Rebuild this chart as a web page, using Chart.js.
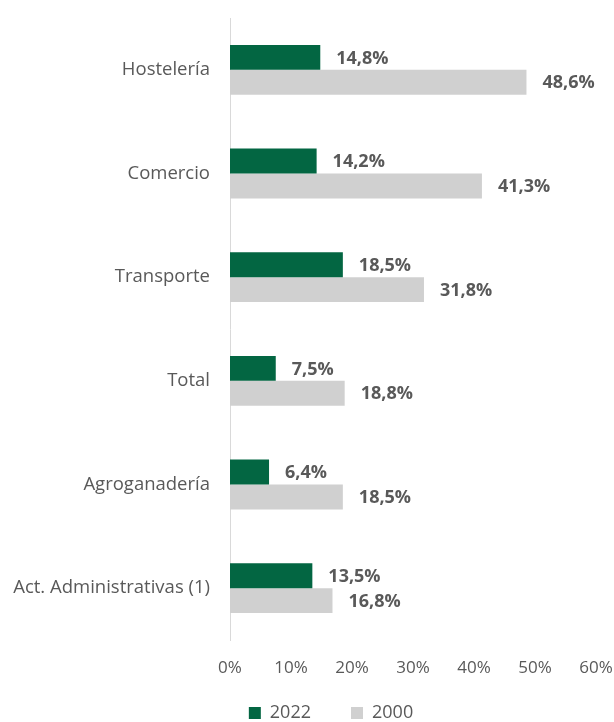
<!DOCTYPE html>
<html>
<head>
<meta charset="utf-8">
<script src="https://cdn.jsdelivr.net/npm/chart.js@4"></script>
<style>
  html, body { margin: 0; padding: 0; background: #fff; }
  #wrap { width: 614px; height: 722px; }
</style>
</head>
<body>
<div id="wrap"><canvas id="chart"></canvas></div>
<script>
// Sector data, 2022 vs 2000
const categories = ['Hostelería', 'Comercio', 'Transporte', 'Total', 'Agroganadería', 'Act. Administrativas (1)'];
const values2022 = [14.8, 14.2, 18.5, 7.5, 6.4, 13.5];
const values2000 = [48.6, 41.3, 31.8, 18.8, 18.5, 16.8];
const seriesNames = ['2022', '2000'];

const FONT = "'Open Sans', sans-serif";
const TEXT = '#595959';

// draws the bold % label right of each bar
const valueLabels = {
  id: 'valueLabels',
  afterLayout(chart) {
    // let the x tick labels spill below the (short) axis box
    chart.scales.x.bottom = chart.height;
    // legend centring counts the trailing padding, nudge it back
    chart.legend.left += 24;
    chart.legend.right += 24;
  },
  afterDatasetsDraw(chart) {
    const ctx = chart.ctx;
    ctx.save();
    ctx.font = 'bold 18px ' + FONT;
    ctx.fillStyle = TEXT;
    ctx.textAlign = 'left';
    ctx.textBaseline = 'middle';
    chart.data.datasets.forEach((ds, i) => {
      chart.getDatasetMeta(i).data.forEach((bar, j) => {
        const txt = ds.data[j].toFixed(1).replace('.', ',') + '%';
        ctx.fillText(txt, bar.x + 16, bar.y + 1);
      });
    });
    ctx.restore();
  }
};

new Chart(document.getElementById('chart'), {
  type: 'bar',
  data: {
    labels: categories,
    datasets: [
      { label: seriesNames[0], data: values2022, backgroundColor: '#036642' },
      { label: seriesNames[1], data: values2000, backgroundColor: '#d0d0d0' }
    ]
  },
  options: {
    indexAxis: 'y',
    responsive: true,
    maintainAspectRatio: false,
    animation: false,
    categoryPercentage: 0.48,
    barPercentage: 1,
    layout: { padding: { top: 18, right: 0, left: 0, bottom: -10 } },
    plugins: {
      tooltip: { enabled: false },
      legend: {
        position: 'bottom',
        labels: {
          font: { family: FONT, size: 18 },
          color: TEXT,
          boxWidth: 12,
          boxHeight: 12,
          padding: 40
        }
      }
    },
    scales: {
      x: {
        min: 0,
        max: 60,
        ticks: {
          stepSize: 10,
          callback: v => v + '%',
          font: { family: FONT, size: 17 },
          color: TEXT,
          padding: 18
        },
        grid: { display: false, drawTicks: false },
        border: { display: false },
        afterFit: s => { s.height = 24; s.paddingRight = 18; }
      },
      y: {
        ticks: {
          font: { family: FONT, size: 18.5 },
          color: TEXT,
          padding: 20
        },
        grid: { display: false, drawTicks: false },
        border: { display: true, color: '#d9d9d9', width: 1 },
        afterFit: s => { s.width = 230; s.paddingTop = 0; s.paddingBottom = 0; }
      }
    }
  },
  plugins: [valueLabels]
});
</script>
</body>
</html>
